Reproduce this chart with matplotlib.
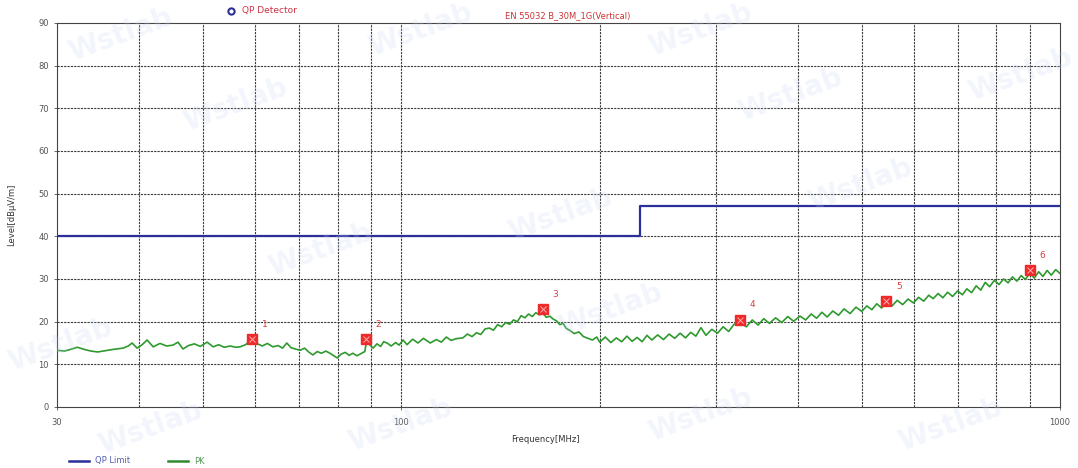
import matplotlib
matplotlib.use("Agg")
import matplotlib.pyplot as plt
from matplotlib.ticker import FixedLocator, NullFormatter, FixedFormatter

# ---------------- data ----------------
pk_freq = [30, 30.8, 31.6, 32.2, 33, 33.8, 34.6, 35.5, 36.5, 37.8, 38.5, 39.0, 39.7, 40.4, 41.1, 42.0,
           43, 44, 45, 45.8, 46.6, 47.5, 48.5, 49.5, 50.7, 51.8, 52.8, 53.8, 55, 56, 56.9, 58, 59.3,
           60.5, 61.5, 62.6, 63.8, 65, 66, 67, 68, 69, 70.2, 71.3, 72.3, 73.4, 74.5, 75.6, 76.8, 77.9,
           79, 79.9, 81, 82.2, 83.3, 84.4, 85.6, 86.8, 88, 88.6, 89.5, 90.6, 91.8, 93, 94, 95.1, 96.5,
           98, 99.2, 100.6,
           102, 104, 106, 108, 110.6, 113, 115, 117, 119, 121, 124, 126, 128, 130, 132, 134, 136, 138,
           140, 142, 144, 146, 148, 150, 152, 154, 156, 158, 160, 162, 164, 166, 168, 170, 172, 174,
           176, 178, 180, 183, 186, 189, 192, 195, 198,
           200, 204, 208, 212, 216, 220, 224, 228, 232, 236, 240, 245, 250, 255, 260, 265, 270, 275,
           280, 285, 290, 296, 302, 308, 314, 320, 327, 334, 341, 348, 355, 362, 370, 378, 386, 394,
           403, 411, 419, 427, 435, 443, 452, 461, 470, 480, 490, 500, 509, 518, 527, 536, 546, 556,
           566, 577, 588, 599, 610, 621, 632, 642, 653, 664, 675, 687, 699, 711, 722, 734, 746, 758,
           770, 782, 795, 808, 821, 834, 847, 860, 873, 886, 900, 914, 928, 942, 956, 970, 985, 1000]
pk_level = [13.3, 13.1, 13.6, 14.0, 13.5, 13.1, 12.9, 13.2, 13.5, 13.8, 14.3, 15.0, 13.8, 14.6, 15.7, 14.1,
            14.9, 14.3, 14.5, 15.2, 13.6, 14.4, 14.8, 14.2, 15.2, 14.1, 14.6, 14.0, 14.3, 14.0, 14.1, 14.6, 15.9,
            14.8, 14.3, 14.9, 14.1, 14.4, 13.8, 15.0, 13.9, 13.6, 13.3, 13.8, 12.9, 12.2, 13.0, 12.6, 13.1, 12.6,
            12.0, 11.5, 12.4, 12.8, 12.1, 12.6, 12.0, 12.5, 13.0, 15.7, 14.6, 13.8, 14.8, 14.2, 15.3, 15.0, 14.3,
            15.1, 14.5, 15.7,
            14.6, 15.9, 15.0, 16.1, 15.0, 15.8, 15.2, 16.4, 15.6, 16.0, 16.2, 17.1, 16.5, 17.4, 17.0, 18.3, 18.5, 18.0,
            19.3, 18.8, 19.8, 19.4, 20.4, 20.0, 21.4, 20.9, 21.8, 21.2, 22.1, 21.6, 22.0, 21.0, 21.3, 20.6, 20.2, 19.3,
            19.6, 18.4, 18.0, 17.2, 17.6, 16.5, 16.1, 15.7, 16.4,
            15.2, 16.4, 15.1, 16.2, 15.3, 16.6, 15.4, 16.3, 15.3, 16.8, 15.7, 16.9, 15.8, 17.1, 16.1, 17.3, 16.2, 17.5,
            16.6, 18.6, 16.8, 18.2, 17.3, 18.8, 17.7, 19.4, 19.8, 18.8, 20.4, 19.2, 20.7, 19.6, 20.9, 19.8, 21.2, 20.1,
            21.3, 20.4, 21.8, 20.8, 22.2, 21.1, 22.5, 21.5, 23.0, 21.9, 23.4, 22.4, 23.7, 22.8, 24.2, 23.2, 24.7, 23.7,
            25.0, 24.0, 25.3, 24.4, 25.7, 24.8, 26.2, 25.4, 26.6, 25.6, 26.9, 25.9, 27.2, 26.3, 27.7, 26.8, 28.4, 27.4,
            29.2, 28.2, 29.7, 28.7, 30.0, 29.1, 30.5, 29.5, 30.8, 29.9, 31.4, 30.2, 31.7, 30.6, 32.0, 30.9, 32.2, 31.3]

limit_freq = [30, 230, 230, 1000]
limit_level = [40, 40, 47, 47]

marker_freq = [59.3, 88.4, 164, 327, 545, 900]
marker_level = [15.9, 15.9, 22.9, 20.4, 24.8, 32.0]
marker_labels = ["1", "2", "3", "4", "5", "6"]

y_ticks = [0, 10, 20, 30, 40, 50, 60, 70, 80, 90]
x_label_ticks = [30, 100, 1000]
x_grid = [40, 50, 60, 70, 80, 90, 100, 200, 300, 400, 500, 600, 700, 800, 900]

# ---------------- figure ----------------
W, H = 1078, 468
fig = plt.figure(figsize=(W / 100, H / 100), dpi=100)
ax = fig.add_axes([57 / W, 1 - 407 / H, (1060 - 57) / W, (407 - 23) / H])

ax.set_xscale("log")
ax.set_xlim(30, 1000)
ax.set_ylim(0, 90)

ax.xaxis.set_major_locator(FixedLocator(x_label_ticks))
ax.xaxis.set_major_formatter(FixedFormatter([str(v) for v in x_label_ticks]))
ax.xaxis.set_minor_locator(FixedLocator([]))
ax.xaxis.set_minor_formatter(NullFormatter())
ax.set_yticks(y_ticks)
ax.tick_params(axis="both", labelsize=6, colors="#555555", length=2, width=0.6, pad=4)
ax.tick_params(axis="x", pad=6)

gstyle = dict(color="#3a3a3a", linewidth=0.8, linestyle=(0, (2, 1)), zorder=1)
for f in x_grid:
    ax.axvline(f, **gstyle)
for lv in y_ticks[1:-1]:
    ax.axhline(lv, **gstyle)

for s in ax.spines.values():
    s.set_linewidth(0.8)
    s.set_color("#444444")

# watermarks
wm = [(120, 35), (235, 105), (420, 30), (700, 30), (790, 95), (1020, 75), (560, 215),
      (320, 250), (860, 185), (60, 345), (610, 310), (400, 425), (700, 415), (950, 425),
      (150, 428)]
for (px, py) in wm:
    fig.text(px / W, 1 - py / H, "Wstlab", fontsize=20, fontweight="bold", color="#c5d6f2",
             alpha=0.22, rotation=20, ha="center", va="center", zorder=0)

ax.plot(limit_freq, limit_level, color="#2b2f9a", linewidth=1.6, zorder=3)
ax.plot(pk_freq, pk_level, color="#2e9a2e", linewidth=1.2, zorder=4)

ax.plot(marker_freq, marker_level, linestyle="none", marker="s", markersize=7,
        color="#ee2a2a", zorder=5)
ax.plot(marker_freq, marker_level, linestyle="none", marker="x", markersize=4,
        markeredgewidth=0.7, color="#ffb0b0", zorder=6)
for f, lv, lab in zip(marker_freq, marker_level, marker_labels):
    ax.annotate(lab, (f, lv), xytext=(7, 9), textcoords="offset points",
                fontsize=6.5, color="#d84040", zorder=7)

ax.patch.set_alpha(0.0)

# texts
fig.text(568 / W, 1 - 16 / H, "EN 55032 B_30M_1G(Vertical)", fontsize=6, color="#cc3333",
         ha="center", va="center")
fig.lines.append(plt.Line2D([231 / W], [1 - 11 / H], marker="o", markersize=4.5,
                            markerfacecolor="none", markeredgecolor="#2b2f9a",
                            markeredgewidth=1.5, transform=fig.transFigure))
fig.text(242 / W, 1 - 11 / H, "QP Detector", fontsize=6.5, color="#cc3344",
         ha="left", va="center")
fig.text(12 / W, 1 - 215 / H, "Level[dBμV/m]", fontsize=6, color="#333333",
         rotation=90, ha="center", va="center")
fig.text(545 / W, 1 - 440 / H, "Frequency[MHz]", fontsize=6, color="#333333",
         ha="center", va="center")

# bottom legend
fig.lines.append(plt.Line2D([69 / W, 89 / W], [1 - 461 / H, 1 - 461 / H], color="#2b2f9a",
                            linewidth=1.8, transform=fig.transFigure))
fig.text(95 / W, 1 - 461 / H, "QP Limit", fontsize=6, color="#5560b0", ha="left", va="center")
fig.lines.append(plt.Line2D([168 / W, 188 / W], [1 - 461 / H, 1 - 461 / H], color="#2e8a2e",
                            linewidth=1.8, transform=fig.transFigure))
fig.text(194 / W, 1 - 461 / H, "PK", fontsize=6, color="#5a9a5a", ha="left", va="center")

fig.savefig("out.png", dpi=100, facecolor="white")
